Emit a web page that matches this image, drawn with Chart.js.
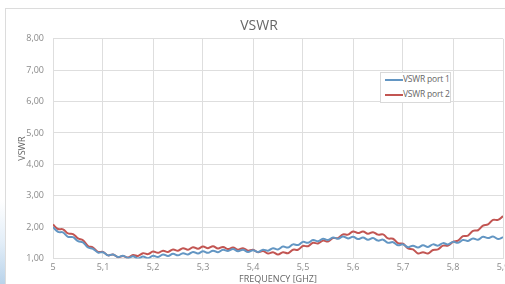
<!DOCTYPE html>
<html>
<head>
<meta charset="utf-8">
<script src="https://cdn.jsdelivr.net/npm/chart.js@4"></script>
<style>
  html, body { margin: 0; padding: 0; width: 505px; height: 284px; overflow: hidden; background: #fff; }
  .swoosh { position: absolute; left: 0; top: 200px; width: 5px; height: 84px;
    background: linear-gradient(180deg, #ffffff 0%, #e3eef8 50%, #b9d3ea 100%); }
  .card { position: absolute; left: 5px; top: 8px; width: 600px; height: 300px;
    border: 1px solid #dcdcdc; background: #fff; }
  #chart { position: absolute; left: 0; top: 0; }
  .legend { position: absolute; left: 380px; top: 72px; width: 69px; height: 29px;
    border: 1px solid #d9d9d9; background: #fff;
    font: 8.5px 'Open Sans', sans-serif; color: #666; }
  .legend div { position: absolute; left: 4px; white-space: nowrap; line-height: 10px; letter-spacing: -0.2px; }
  .legend span { display: inline-block; width: 18px; height: 2px; vertical-align: middle; }
</style>
</head>
<body>
<div class="swoosh"></div>
<div class="card"></div>
<canvas id="chart" width="530" height="290"></canvas>
<div class="legend" id="legend"></div>
<script>
const freqs = [
  5.00, 5.01, 5.02, 5.03, 5.04, 5.05, 5.06, 5.07, 5.08, 5.09,
  5.10, 5.11, 5.12, 5.13, 5.14, 5.15, 5.16, 5.17, 5.18, 5.19,
  5.20, 5.21, 5.22, 5.23, 5.24, 5.25, 5.26, 5.27, 5.28, 5.29,
  5.30, 5.31, 5.32, 5.33, 5.34, 5.35, 5.36, 5.37, 5.38, 5.39,
  5.40, 5.41, 5.42, 5.43, 5.44, 5.45, 5.46, 5.47, 5.48, 5.49,
  5.50, 5.51, 5.52, 5.53, 5.54, 5.55, 5.56, 5.57, 5.58, 5.59,
  5.60, 5.61, 5.62, 5.63, 5.64, 5.65, 5.66, 5.67, 5.68, 5.69,
  5.70, 5.71, 5.72, 5.73, 5.74, 5.75, 5.76, 5.77, 5.78, 5.79,
  5.80, 5.81, 5.82, 5.83, 5.84, 5.85, 5.86, 5.87, 5.88, 5.89,
  5.90
];

const vswrPort1 = [
  2.00, 1.85, 1.83, 1.69, 1.68, 1.55, 1.51, 1.35, 1.31, 1.19,
  1.20, 1.10, 1.13, 1.05, 1.09, 1.02, 1.07, 1.00, 1.06, 1.01,
  1.09, 1.05, 1.13, 1.08, 1.15, 1.10, 1.17, 1.13, 1.21, 1.16,
  1.23, 1.18, 1.25, 1.20, 1.28, 1.24, 1.30, 1.23, 1.28, 1.21,
  1.26, 1.21, 1.28, 1.25, 1.33, 1.29, 1.38, 1.35, 1.45, 1.43,
  1.53, 1.50, 1.59, 1.55, 1.63, 1.59, 1.67, 1.63, 1.70, 1.64,
  1.69, 1.62, 1.67, 1.60, 1.65, 1.57, 1.60, 1.50, 1.52, 1.42,
  1.45, 1.36, 1.41, 1.35, 1.42, 1.37, 1.45, 1.41, 1.49, 1.45,
  1.53, 1.50, 1.59, 1.56, 1.64, 1.60, 1.69, 1.65, 1.70, 1.62,
  1.68
];

const vswrPort2 = [
  2.08, 1.94, 1.93, 1.80, 1.78, 1.64, 1.58, 1.40, 1.35, 1.21,
  1.21, 1.10, 1.13, 1.04, 1.08, 1.03, 1.11, 1.08, 1.17, 1.14,
  1.22, 1.18, 1.25, 1.21, 1.29, 1.25, 1.33, 1.28, 1.36, 1.31,
  1.38, 1.33, 1.39, 1.32, 1.37, 1.30, 1.35, 1.28, 1.33, 1.25,
  1.28, 1.20, 1.24, 1.16, 1.20, 1.13, 1.20, 1.17, 1.28, 1.28,
  1.40, 1.39, 1.50, 1.48, 1.57, 1.54, 1.65, 1.65, 1.77, 1.76,
  1.86, 1.81, 1.86, 1.79, 1.84, 1.76, 1.77, 1.64, 1.63, 1.49,
  1.47, 1.32, 1.29, 1.16, 1.20, 1.16, 1.27, 1.29, 1.41, 1.41,
  1.53, 1.57, 1.71, 1.73, 1.88, 1.90, 2.05, 2.09, 2.23, 2.23,
  2.35
];

const seriesNames = ['VSWR port 1', 'VSWR port 2'];
const seriesColors = ['#6396c3', '#c25552'];
const xTickLabels = ['5', '5,1', '5,2', '5,3', '5,4', '5,5', '5,6', '5,7', '5,8', '5,9'];
const yTickLabels = ['1,00', '2,00', '3,00', '4,00', '5,00', '6,00', '7,00', '8,00'];

const font = "'Open Sans', sans-serif";
const gridColor = '#dedede';
const textColor = '#8a8a8a';

const toPoints = ys => ys.map((y, i) => ({ x: freqs[i], y }));

new Chart(document.getElementById('chart'), {
  type: 'line',
  data: {
    datasets: [vswrPort1, vswrPort2].map((ys, i) => ({
      label: seriesNames[i],
      data: toPoints(ys),
      borderColor: seriesColors[i],
      backgroundColor: seriesColors[i],
      borderWidth: 2,
      pointRadius: 0,
      tension: 0.4,
      fill: false
    }))
  },
  options: {
    responsive: false,
    animation: false,
    layout: { padding: { left: 15, right: 27, top: 0, bottom: 0 } },
    plugins: {
      legend: { display: false },
      tooltip: { enabled: false },
      title: {
        display: true,
        text: 'VSWR',
        color: '#666666',
        font: { family: font, size: 14, weight: 'normal' },
        padding: { top: 18, bottom: 4 }
      }
    },
    scales: {
      x: {
        type: 'linear',
        min: 5,
        max: 5.9,
        grid: { color: gridColor, drawTicks: false },
        border: { color: gridColor },
        ticks: {
          stepSize: 0.1,
          padding: 4,
          color: textColor,
          font: { family: font, size: 9 },
          maxRotation: 0,
          callback: v => xTickLabels[Math.round((v - 5) * 10)] ?? ''
        },
        title: {
          display: true,
          text: 'FREQUENCY [GHZ]',
          color: '#666666',
          font: { family: font, size: 9 },
          padding: { top: 5, bottom: 5 }
        },
        afterFit: scale => { scale.height = 31.5; }
      },
      y: {
        min: 1,
        max: 8,
        grid: { color: gridColor, drawTicks: false },
        border: { display: false },
        ticks: {
          stepSize: 1,
          padding: 9,
          color: textColor,
          font: { family: font, size: 9 },
          callback: v => yTickLabels[Math.round(v - 1)] ?? ''
        },
        title: {
          display: true,
          text: 'VSWR',
          color: '#666666',
          font: { family: font, size: 9 },
          padding: { top: 2, bottom: 2 }
        },
        afterFit: scale => { scale.width = 38; }
      }
    }
  }
});

// Excel-style legend box placed inside the plot
const legend = document.getElementById('legend');
seriesNames.forEach((name, i) => {
  const row = document.createElement('div');
  row.style.top = (i === 0 ? 1 : 16) + 'px';
  row.innerHTML = `<span style="background:${seriesColors[i]}"></span>${name}`;
  legend.appendChild(row);
});
</script>
</body>
</html>
